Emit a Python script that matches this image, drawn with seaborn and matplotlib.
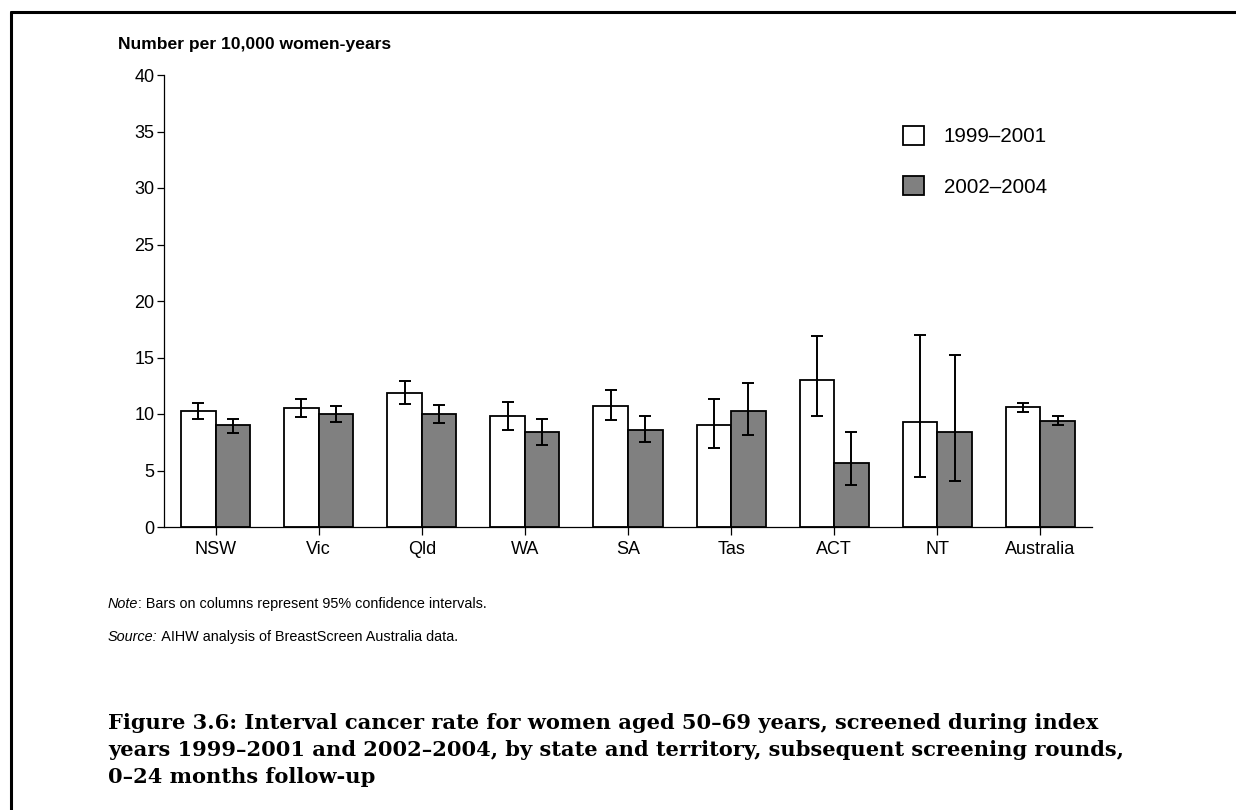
import matplotlib
matplotlib.use("Agg")
import matplotlib.pyplot as plt
import seaborn as sns
import pandas as pd
import numpy as np
from matplotlib.lines import Line2D

states = ["NSW", "Vic", "Qld", "WA", "SA", "Tas", "ACT", "NT", "Australia"]
periods = ["1999\u20132001", "2002\u20132004"]
rate_9901 = [10.3, 10.5, 11.9, 9.8, 10.7, 9.0, 13.0, 9.3, 10.6]
low_9901 = [9.6, 9.7, 10.9, 8.55, 9.5, 7.0, 9.8, 4.4, 10.2]
high_9901 = [11.0, 11.3, 12.9, 11.05, 12.1, 11.35, 16.9, 17.0, 11.0]
rate_0204 = [9.0, 10.0, 10.0, 8.4, 8.6, 10.3, 5.7, 8.4, 9.4]
low_0204 = [8.35, 9.3, 9.2, 7.3, 7.5, 8.15, 3.7, 4.1, 9.05]
high_0204 = [9.6, 10.7, 10.8, 9.6, 9.8, 12.7, 8.4, 15.2, 9.8]
yticks = [0, 5, 10, 15, 20, 25, 30, 35, 40]

df = pd.DataFrame({
    "state": states * 2,
    "period": [periods[0]] * len(states) + [periods[1]] * len(states),
    "rate": rate_9901 + rate_0204,
    "low": low_9901 + low_0204,
    "high": high_9901 + high_0204,
})

sns.set_theme(style="white")
plt.rcParams["font.family"] = ["Liberation Sans", "DejaVu Sans"]
plt.rcParams["text.color"] = "black"
plt.rcParams["xtick.color"] = "black"
plt.rcParams["ytick.color"] = "black"
plt.rcParams["axes.labelcolor"] = "black"

fig = plt.figure(figsize=(12.36, 8.10), dpi=100)
ax = fig.add_axes([164 / 1236, 1 - 527 / 810, 928 / 1236, 452 / 810])

sns.barplot(data=df, x="state", y="rate", hue="period", order=states,
            hue_order=periods, palette=["white", "#808080"], errorbar=None,
            width=0.67, edgecolor="black", linewidth=1.3, saturation=1,
            ax=ax, legend=True)

# error bars at bar centres taken from the drawn containers
for cont, p in zip(ax.containers, periods):
    sub = df[df["period"] == p].set_index("state").loc[states]
    xs = [b.get_x() + b.get_width() / 2 for b in cont]
    ys = sub["rate"].values
    yerr = np.vstack([ys - sub["low"].values, sub["high"].values - ys])
    ax.errorbar(xs, ys, yerr=yerr, fmt="none", ecolor="black",
                elinewidth=1.4, capsize=4.5, capthick=1.4, zorder=5)

ax.set_ylim(0, 40)
ax.set_xlim(-0.5, len(states) - 0.5)
ax.set_yticks(yticks)
ax.set_yticklabels([str(t) for t in yticks])
ax.set_xlabel("")
ax.set_ylabel("")
for s in ["top", "right"]:
    ax.spines[s].set_visible(False)
for s in ["left", "bottom"]:
    ax.spines[s].set_color("black")
    ax.spines[s].set_linewidth(0.9)
ax.tick_params(axis="y", direction="out", length=5, width=0.9, color="black",
               labelcolor="black", labelsize=13, pad=2, left=True)
ax.tick_params(axis="x", direction="out", length=6, width=0.9, color="black",
               labelcolor="black", labelsize=13, pad=4, bottom=True)

handles, labels = ax.get_legend_handles_labels()
leg = ax.legend(handles, labels, loc="upper left",
                bbox_to_anchor=((903 - 164) / 928, (527 - 126) / 452),
                frameon=False, fontsize=14.8, handlelength=1.03,
                handleheight=1.03, handletextpad=0.95, labelspacing=1.45,
                borderpad=0, borderaxespad=0)
for h in leg.legend_handles:
    h.set_edgecolor("black")
    h.set_linewidth(1.3)
for txt in leg.get_texts():
    txt.set_color("black")

fig.text(118 / 1236, 1 - 45 / 810, "Number per 10,000 women-years",
         fontsize=12.6, fontweight="bold", ha="left", va="center",
         color="black")


def prefixed(y, prefix, rest):
    a = fig.text(108 / 1236, 1 - y / 810, prefix, fontsize=10.4,
                 style="italic", ha="left", va="center", color="black")
    fig.canvas.draw()
    bb = a.get_window_extent()
    fig.text(bb.x1 / 1236, 1 - y / 810, rest, fontsize=10.4,
             ha="left", va="center", color="black")


prefixed(604, "Note", ": Bars on columns represent 95% confidence intervals.")
prefixed(637, "Source:", " AIHW analysis of BreastScreen Australia data.")

cap = ["Figure 3.6: Interval cancer rate for women aged 50\u201369 years, screened during index",
       "years 1999\u20132001 and 2002\u20132004, by state and territory, subsequent screening rounds,",
       "0\u201324 months follow-up"]
for i, line in enumerate(cap):
    fig.text(108 / 1236, 1 - (723 + i * 27) / 810, line, fontsize=15.1,
             fontweight="bold", family=["DejaVu Serif"],
             ha="left", va="center", color="black")

# frame lines (top and left)
fig.add_artist(Line2D([11 / 1236, 1.0], [1 - 12 / 810, 1 - 12 / 810],
                      color="black", linewidth=2.2, transform=fig.transFigure))
fig.add_artist(Line2D([11 / 1236, 11 / 1236], [1 - 12 / 810, 0.0],
                      color="black", linewidth=2.2, transform=fig.transFigure))

fig.savefig("out.png", dpi=100)
